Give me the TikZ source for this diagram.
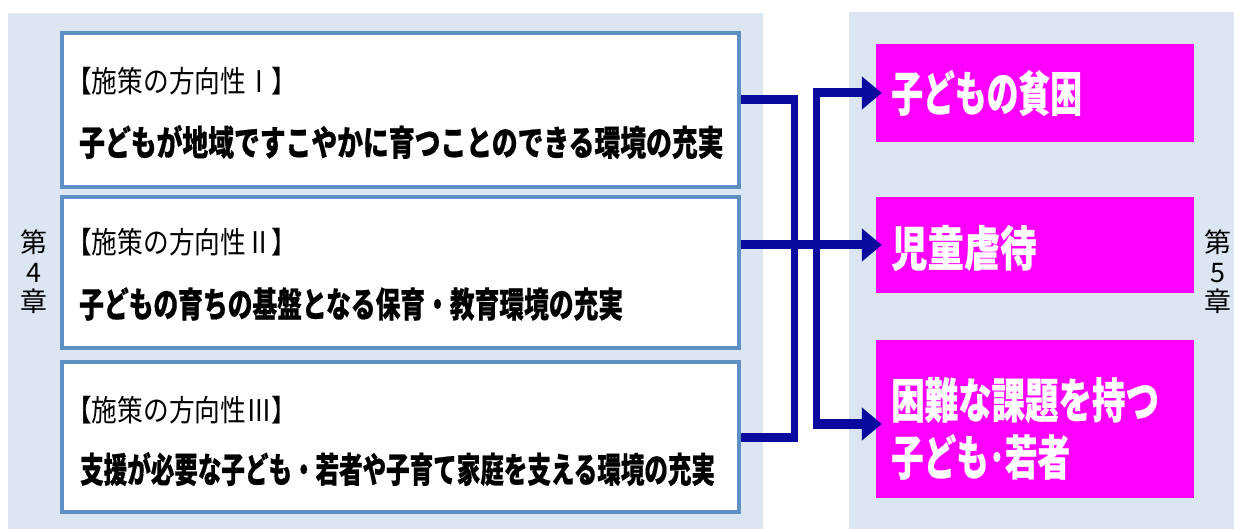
\documentclass[tikz,border=0pt]{standalone}
\usepackage{fontspec}
\usepackage{graphicx}
\newfontfamily\jp{Noto Sans CJK JP}[BoldFeatures={FakeBold=0.6}]
\usetikzlibrary{arrows.meta}
\definecolor{panel}{HTML}{DCE6F3}
\definecolor{boxline}{HTML}{5F90C4}
\definecolor{navy}{HTML}{0A0A9E}
\definecolor{pinkbox}{HTML}{FF00FF}
\newcommand{\sx}[2]{\scalebox{#1}[1]{#2}}
\tikzset{
  wbox/.style={draw=boxline, line width=3.5bp, fill=white, minimum width=677bp, inner sep=0pt},
  pbox/.style={fill=pinkbox, minimum width=318bp, inner sep=0pt},
  headtxt/.style={anchor=west, inner sep=0pt, font=\jp\fontsize{30}{33}\selectfont},
  maintxt/.style={anchor=west, inner sep=0pt, font=\jp\bfseries\fontsize{35}{38}\selectfont},
  pinktxt/.style={anchor=west, inner sep=0pt, text=white, font=\jp\bfseries\fontsize{48}{52}\selectfont},
  chap/.style={inner sep=0pt, align=center, font=\jp\fontsize{27}{29.5}\selectfont},
  hline/.style={draw=navy, line width=9bp},
  vline/.style={draw=navy, line width=7bp},
  arr/.style={draw=navy, line width=9bp, -{Triangle[length=20bp,width=32bp]}, shorten >=-6bp}
}
\begin{document}
\begin{tikzpicture}[x=1bp,y=-1bp]
\useasboundingbox (0,0) rectangle (1234,529);
\fill[white] (0,0) rectangle (1234,529);
% panels
\fill[panel] (8,13) rectangle (763,529);
\fill[panel] (849,12) rectangle (1234,529);
% left boxes
\node[wbox, minimum height=154bp] (b1) at (400.5,110) {};
\node[wbox, minimum height=151bp] (b2) at (400.5,272.5) {};
\node[wbox, minimum height=150bp] (b3) at (400.5,437) {};
% texts
\node[headtxt] (t1a) at (66,81) {\sx{0.86}{【施策の方向性Ⅰ】}};
\node[maintxt] (t1b) at (79,142) {\sx{0.74}{子どもが地域ですこやかに育つことのできる環境の充実}};
\node[headtxt] (t2a) at (66,242) {\sx{0.86}{【施策の方向性Ⅱ】}};
\node[maintxt] (t2b) at (79,304) {\sx{0.71}{子どもの育ちの基盤となる保育・教育環境の充実}};
\node[headtxt] (t3a) at (66,410) {\sx{0.86}{【施策の方向性Ⅲ】}};
\node[maintxt] (t3b) at (80,469) {\sx{0.675}{支援が必要な子ども・若者や子育て家庭を支える環境の充実}};
% chapter labels
\node[chap] (c4) at (34,272) {第\\4\\章};
\node[chap] (c5) at (1218,272) {第\\5\\章};
% pink boxes
\node[pbox, minimum height=98bp] (p1) at (1035,93) {};
\node[pbox, minimum height=96bp] (p2) at (1035,245) {};
\node[pbox, minimum height=158bp] (p3) at (1035,419) {};
\node[pinktxt] (q1) at (891,93) {\sx{0.665}{子どもの貧困}};
\node[pinktxt] (q2) at (891,248) {\sx{0.76}{児童虐待}};
\node[pinktxt] (q3a) at (891,400) {\sx{0.70}{困難な課題を持つ}};
\node[pinktxt] (q3b) at (891,457) {\sx{0.68}{子ども･若者}};
% connector coordinates
\coordinate (l1) at (0,100);
\coordinate (l3) at (0,437);
\coordinate (a3) at (0,424);
\coordinate (jx) at (794,0);
\coordinate (kx) at (816,0);
\coordinate (jtop) at (794,95.5);
\coordinate (jbot) at (794,441.5);
\coordinate (ktop) at (816,90.5);
\coordinate (kbot) at (816,428.5);
% left bracket
\draw[hline] (b1.east |- l1) -- ([xshift=3.5bp]jx |- l1);
\draw[hline] (b3.east |- l3) -- ([xshift=3.5bp]jx |- l3);
\draw[vline] (jtop) -- (jbot);
% middle arrow
\draw[arr] (b2.east |- p2.west) -- (p2.west);
% right bracket
\draw[vline] (ktop) -- (kbot);
\draw[arr] ([xshift=-3.5bp]kx |- p1.west) -- (p1.west);
\draw[arr] ([xshift=-3.5bp]kx |- a3) -- (p3.west |- a3);
\end{tikzpicture}
\end{document}
